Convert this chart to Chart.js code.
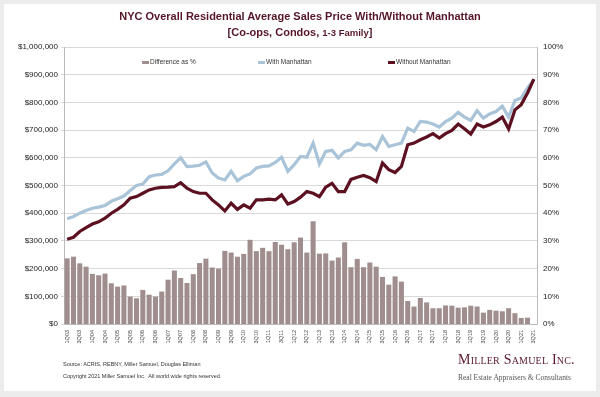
<!DOCTYPE html>
<html>
<head>
<meta charset="utf-8">
<script src="https://cdn.jsdelivr.net/npm/chart.js@4.4.0/dist/chart.umd.min.js"></script>
<style>
    html, body { margin: 0; padding: 0; }
    body { width: 600px; height: 397px; background: #ececec; position: relative; overflow: hidden; font-family: "Liberation Sans", Arial, sans-serif; }
    .panel { position: absolute; left: 4px; top: 4px; width: 592px; height: 387px; background: #fff; }
    #chartWrap { position: absolute; left: 0; top: 0; width: 600px; height: 397px; }
    .title { position: absolute; left: 0; width: 600px; text-align: center; color: #561627; font-weight: bold; font-size: 11px; }
    .legend { position: absolute; top: 58px; font-size: 6.5px; color: #333; white-space: nowrap; }
    .legend i { display: inline-block; width: 7px; height: 3px; vertical-align: middle; margin-right: 1px; }
    .note { position: absolute; left: 63px; font-size: 5.5px; color: #333; }
    .logo { position: absolute; left: 458px; top: 352px; color: #5b1a2b; font-family: "Liberation Serif", serif; font-size: 14px; font-variant: small-caps; letter-spacing: 0.2px; }
    .tag { position: absolute; left: 458px; top: 373px; color: #555; font-family: "Liberation Serif", serif; font-size: 7.5px; }
</style>
</head>
<body>
<div class="panel"></div>
<div id="chartWrap"><canvas id="priceChart" width="600" height="397"></canvas></div>
<div class="title" style="top: 10px;">NYC Overall Residential Average Sales Price With/Without Manhattan</div>
<div class="title" style="top: 26px;">[Co-ops, Condos, <span style="font-size: 9.5px;">1-3 Family</span>]</div>
<div class="legend" style="left: 142px;"><i style="background:#a08e8e"></i>Difference as %</div>
<div class="legend" style="left: 258px;"><i style="background:#a9c4d8"></i>With Manhattan</div>
<div class="legend" style="left: 388px;"><i style="background:#5c1020"></i>Without Manhattan</div>
<div class="note" style="top: 361px;">Source: ACRIS, REBNY, Miller Samuel, Douglas Elliman</div>
<div class="note" style="top: 373px;">Copyright 2021 Miller Samuel Inc.&nbsp; All world wide rights reserved.</div>
<div class="logo">Miller Samuel Inc.</div>
<div class="tag">Real Estate Appraisers &amp; Consultants</div>

<script>
// Quarters 1Q03 .. 3Q21
const quarters = [];
for (let y = 3; y <= 21; y++) {
    for (let q = 1; q <= 4; q++) {
        if (y === 21 && q > 3) break;
        quarters.push(q + 'Q' + String(y).padStart(2, '0'));
    }
}

// Difference as % (right axis)
const diffPct = [
    23.7, 24.3, 21.9, 20.7, 18.1, 17.6, 18.2, 14.7, 13.5, 13.9,
    9.9, 9.3, 12.3, 10.6, 9.9, 11.7, 16.0, 19.3, 16.6, 14.8,
    18.0, 22.0, 23.6, 20.4, 20.0, 26.4, 25.8, 24.3, 25.3, 30.4,
    26.3, 27.5, 26.3, 29.6, 28.6, 27.0, 29.5, 31.2, 25.8, 37.1,
    25.4, 25.5, 22.9, 24.0, 29.5, 20.5, 23.5, 20.5, 22.2, 20.7,
    17.0, 14.2, 17.2, 15.3, 8.3, 6.3, 9.4, 7.8, 5.7, 5.7,
    6.7, 6.6, 5.9, 6.0, 6.6, 6.3, 4.1, 5.1, 4.8, 4.6,
    5.7, 3.9, 2.2, 2.3, null
];

// With Manhattan average price ($)
const withManhattan = [
    380000, 388000, 400000, 410000, 418000, 422000, 428000, 443000, 452000, 462000,
    482000, 500000, 505000, 532000, 538000, 540000, 553000, 578000, 600000, 568000,
    570000, 573000, 585000, 545000, 527000, 520000, 551000, 517000, 533000, 542000,
    563000, 569000, 571000, 583000, 602000, 551000, 575000, 605000, 602000, 653000,
    578000, 623000, 627000, 599000, 623000, 629000, 653000, 645000, 648000, 629000,
    677000, 641000, 647000, 653000, 707000, 695000, 731000, 729000, 722000, 711000,
    731000, 743000, 764000, 747000, 735000, 770000, 743000, 758000, 767000, 786000,
    747000, 807000, 816000, 852000, 882000
];

// Without Manhattan average price ($)
const withoutManhattan = [
    306000, 313000, 334000, 348000, 361000, 369000, 382000, 400000, 414000, 430000,
    454000, 460000, 472000, 484000, 490000, 493000, 494000, 496000, 510000, 490000,
    478000, 472000, 472000, 448000, 430000, 408000, 436000, 414000, 430000, 418000,
    448000, 448000, 451000, 448000, 466000, 433000, 442000, 458000, 478000, 472000,
    460000, 494000, 508000, 478000, 478000, 522000, 530000, 536000, 528000, 514000,
    581000, 557000, 547000, 569000, 647000, 653000, 665000, 675000, 687000, 671000,
    687000, 699000, 722000, 705000, 686000, 722000, 711000, 719000, 731000, 747000,
    704000, 773000, 792000, 834000, 884000
];

const tickColor = '#222';
const gridColor = '#d9d9d9';

function initPriceChart() {
    const ctx = document.getElementById('priceChart');
    new Chart(ctx, {
        data: {
            labels: quarters,
            datasets: [
                {
                    type: 'line',
                    label: 'Without Manhattan',
                    data: withoutManhattan,
                    borderColor: '#5c1020',
                    borderWidth: 3.2,
                    pointRadius: 0,
                    tension: 0,
                    yAxisID: 'y',
                    order: 1
                },
                {
                    type: 'line',
                    label: 'With Manhattan',
                    data: withManhattan,
                    borderColor: '#a9c4d8',
                    borderWidth: 3.2,
                    pointRadius: 0,
                    tension: 0,
                    yAxisID: 'y',
                    order: 2
                },
                {
                    type: 'bar',
                    label: 'Difference as %',
                    data: diffPct,
                    backgroundColor: '#a08e8e',
                    barPercentage: 0.8,
                    categoryPercentage: 1.0,
                    yAxisID: 'y2',
                    order: 3
                }
            ]
        },
        options: {
            responsive: false,
            animation: false,
            layout: { padding: { top: 47, bottom: 0, left: 0, right: 0 } },
            plugins: {
                legend: { display: false },
                title: { display: false },
                tooltip: { enabled: false }
            },
            scales: {
                x: {
                    afterFit: function(scale) { scale.height = 73; },
                    grid: { display: false, drawTicks: true, tickLength: 3 },
                    border: { color: '#bbb' },
                    ticks: {
                        autoSkip: false,
                        maxRotation: 90,
                        minRotation: 90,
                        color: '#444',
                        font: { size: 5.5, family: 'Liberation Sans' },
                        callback: function(value, index) {
                            return index % 2 === 0 ? quarters[index] : '';
                        }
                    }
                },
                y: {
                    position: 'left',
                    min: 0,
                    max: 1000000,
                    afterFit: function(scale) { scale.width = 64; },
                    grid: { color: gridColor, drawTicks: true, tickLength: 3 },
                    border: { color: '#bbb' },
                    ticks: {
                        stepSize: 100000,
                        color: tickColor,
                        font: { size: 8, family: 'Liberation Sans' },
                        callback: function(value) {
                            return '$' + value.toLocaleString('en-US');
                        }
                    }
                },
                y2: {
                    position: 'right',
                    min: 0,
                    max: 100,
                    afterFit: function(scale) { scale.width = 63; },
                    grid: { display: false, drawTicks: true, tickLength: 3 },
                    border: { color: '#bbb' },
                    ticks: {
                        stepSize: 10,
                        color: tickColor,
                        font: { size: 8, family: 'Liberation Sans' },
                        callback: function(value) {
                            return value + '%';
                        }
                    }
                }
            }
        }
    });
}

initPriceChart();
</script>
</body>
</html>
